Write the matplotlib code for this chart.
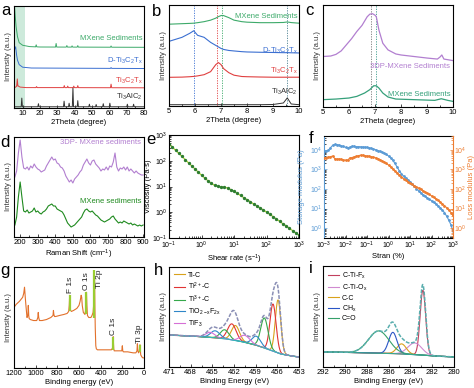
import numpy as np
import matplotlib
matplotlib.use("Agg")
import matplotlib.pyplot as plt
from matplotlib.ticker import MultipleLocator, LogLocator, NullFormatter

plt.rcParams["font.family"] = ["Liberation Sans", "DejaVu Sans"]
plt.rcParams["mathtext.default"] = "regular"

# ---------------- data ----------------
# (a) XRD wide range: baselines + peak sticks (position, height)
a_tac_bx = [5, 80]
a_tac_by = [0.012, 0.012]
a_tac_pk = [(9.5, 0.085), (19.1, 0.03), (33.9, 0.055), (36.8, 0.035), (39.0, 0.19),
            (41.8, 0.06), (48.5, 0.025), (52.4, 0.022), (56.5, 0.03), (60.3, 0.035),
            (70.4, 0.025), (74.0, 0.025)]
a_tct_bx = [5, 6, 6.5, 7.5, 8.5, 12, 30, 80]
a_tct_by = [0.20, 0.205, 0.215, 0.215, 0.205, 0.20, 0.20, 0.198]
a_tct_pk = [(6.9, 0.07), (18.0, 0.01), (34.0, 0.02), (36.0, 0.015), (39.5, 0.015),
            (41.8, 0.02), (61.0, 0.035)]
a_dtct_bx = [5, 5.5, 5.95, 6.5, 7, 8, 10, 15, 40, 80]
a_dtct_by = [0.56, 0.58, 0.60, 0.52, 0.47, 0.425, 0.40, 0.392, 0.39, 0.387]
a_dtct_pk = [(61.0, 0.008)]
a_sed_bx = [5, 5.3, 5.7, 6.2, 7, 8, 10, 14, 20, 80]
a_sed_by = [1.05, 1.0, 0.9, 0.8, 0.7, 0.64, 0.615, 0.602, 0.598, 0.595]
a_sed_pk = [(17.8, 0.02), (29.3, 0.035), (35.5, 0.015), (38.5, 0.012), (41.8, 0.015),
            (61.0, 0.012)]

# (b) XRD low angle
b_x = [5.0, 5.5, 5.8, 5.95, 6.1, 6.35, 6.6, 6.8, 6.9, 7.0, 7.05, 7.1, 7.3, 7.5, 7.8,
       8.0, 8.5, 9.0, 9.4, 9.55, 9.7, 10.0]
b_sed = [0.81, 0.815, 0.818, 0.82, 0.825, 0.835, 0.85, 0.87, 0.885, 0.895, 0.897, 0.895,
         0.875, 0.85, 0.835, 0.83, 0.825, 0.825, 0.827, 0.832, 0.826, 0.82]
b_dtct = [0.64, 0.68, 0.72, 0.745, 0.70, 0.68, 0.63, 0.60, 0.585, 0.57, 0.565, 0.56,
          0.55, 0.545, 0.538, 0.535, 0.532, 0.53, 0.528, 0.528, 0.527, 0.525]
b_tct = [0.284, 0.286, 0.29, 0.293, 0.298, 0.31, 0.34, 0.41, 0.43, 0.41, 0.39, 0.37,
         0.33, 0.305, 0.292, 0.29, 0.287, 0.285, 0.285, 0.285, 0.285, 0.285]
b_tac = [0.013, 0.013, 0.013, 0.013, 0.013, 0.013, 0.013, 0.013, 0.013, 0.013, 0.013,
         0.013, 0.013, 0.013, 0.013, 0.013, 0.013, 0.015, 0.03, 0.08, 0.02, 0.013]
b_lines = [5.95, 6.85, 7.05, 9.55]
b_line_colors = ["#3b6fd1", "#e04040", "#3daa6a", "#4a7f8f"]

# (c) XRD 3DP vs sediments
c_px = [5.0, 5.3, 5.5, 5.7, 5.9, 6.1, 6.3, 6.5, 6.7, 6.8, 6.9, 7.0, 7.05, 7.15, 7.3,
        7.5, 7.8, 8.0, 8.5, 9.0, 9.4, 9.5, 9.57, 9.65, 10.0]
c_py = [0.495, 0.50, 0.516, 0.55, 0.61, 0.67, 0.74, 0.80, 0.885, 0.91, 0.915, 0.90,
        0.885, 0.755, 0.625, 0.56, 0.52, 0.51, 0.495, 0.48, 0.47, 0.49, 0.51, 0.47, 0.455]
c_gx = [5.0, 5.5, 6.0, 6.3, 6.6, 6.8, 6.95, 7.05, 7.15, 7.3, 7.5, 7.8, 8.5, 9.3, 9.55,
        9.8, 10.0]
c_gy = [0.072, 0.078, 0.088, 0.104, 0.137, 0.17, 0.208, 0.208, 0.186, 0.137, 0.098,
        0.078, 0.072, 0.065, 0.081, 0.065, 0.055]
c_lines = [6.83, 7.03]

# (d) Raman
d_x = list(range(170, 901, 10))
d_3dp = [0.60, 0.66, 0.84, 0.97, 0.80, 0.69, 0.68, 0.70, 0.67, 0.71, 0.69, 0.73, 0.70,
         0.68, 0.67, 0.65, 0.66, 0.67, 0.71, 0.74, 0.77, 0.80, 0.77, 0.78, 0.74, 0.73,
         0.70, 0.69, 0.66, 0.61, 0.58, 0.55, 0.57, 0.54, 0.58, 0.60, 0.62, 0.65, 0.67,
         0.72, 0.75, 0.78, 0.74, 0.72, 0.76, 0.77, 0.73, 0.71, 0.69, 0.66, 0.68, 0.67,
         0.70, 0.67, 0.71, 0.70, 0.75, 0.84, 0.70, 0.66, 0.69, 0.68, 0.70, 0.67, 0.70,
         0.66, 0.68, 0.66, 0.64, 0.66, 0.64, 0.63, 0.62, 0.62]
d_sed = [0.12, 0.20, 0.40, 0.55, 0.40, 0.26, 0.25, 0.27, 0.24, 0.25, 0.26, 0.29, 0.25,
         0.26, 0.24, 0.23, 0.25, 0.26, 0.28, 0.31, 0.32, 0.33, 0.31, 0.31, 0.28, 0.27,
         0.26, 0.25, 0.22, 0.18, 0.14, 0.12, 0.10, 0.11, 0.12, 0.14, 0.16, 0.18, 0.20,
         0.24, 0.27, 0.28, 0.26, 0.25, 0.26, 0.24, 0.22, 0.21, 0.19, 0.17, 0.16, 0.15,
         0.16, 0.17, 0.18, 0.20, 0.21, 0.18, 0.16, 0.14, 0.15, 0.14, 0.16, 0.15, 0.14,
         0.13, 0.14, 0.12, 0.13, 0.12, 0.11, 0.12, 0.11, 0.12]

# (e) viscosity vs shear rate
e_rate = np.logspace(-1, 3, 41)
e_visc = [447, 339, 257, 195, 148, 110, 83, 63, 48, 36, 27.5, 21.4, 16.6, 13.2, 11.2,
          10.2, 9.8, 9.5, 8.7, 7.6, 6.5, 5.4, 4.5, 3.7, 3.1, 2.6, 2.1, 1.78, 1.48, 1.23,
          1.02, 0.83, 0.68, 0.55, 0.45, 0.36, 0.30, 0.24, 0.195, 0.158, 0.129]

# (f) amplitude sweep, log10 of moduli
f_strain = np.logspace(-3, 3, 61)
f_logG1 = [3.93, 3.95, 3.97, 4.10, 4.22, 4.27, 4.26, 4.24, 4.20, 4.17, 4.12, 4.10, 4.13,
           4.18, 4.17, 4.15, 4.16, 4.15, 4.14, 4.13, 4.12, 4.10, 4.07, 4.04, 4.00, 3.96,
           3.92, 3.87, 3.82, 3.76, 3.68, 3.58, 3.46, 3.30, 3.12, 2.93, 2.78, 2.66, 2.56,
           2.47, 2.38, 2.27, 2.15, 2.02, 1.90, 1.80, 1.70, 1.62, 1.55, 1.48, 1.40, 1.32,
           1.24, 1.15, 1.05, 0.93, 0.80, 0.62, 0.42, 0.18, -0.15]
f_logG2 = [3.56, 3.60, 3.62, 3.64, 3.68, 3.55, 3.52, 3.53, 3.51, 3.48, 3.47, 3.47, 3.58,
           3.60, 3.64, 3.66, 3.70, 3.72, 3.72, 3.70, 3.68, 3.67, 3.65, 3.62, 3.59, 3.55,
           3.50, 3.44, 3.38, 3.30, 3.22, 3.12, 3.02, 2.92, 2.82, 2.72, 2.62, 2.52, 2.44,
           2.37, 2.30, 2.23, 2.17, 2.11, 2.05, 1.98, 1.92, 1.85, 1.78, 1.72, 1.65, 1.58,
           1.50, 1.42, 1.34, 1.25, 1.15, 1.05, 0.93, 0.80, 0.65]

# (g) XPS survey
g_x = [1200, 1180, 1150, 1120, 1110, 1103, 1100, 1096, 1090, 1080, 1072, 1068, 1064,
       1060, 1050, 1020, 990, 980, 976, 972, 965, 940, 900, 860, 840, 836, 832, 826, 815,
       780, 740, 710, 695, 690, 686, 682, 678, 670, 650, 620, 600, 590, 580, 575, 570,
       560, 545, 535, 531, 527, 522, 510, 490, 480, 470, 465, 462, 459, 456, 453, 450,
       445, 440, 430, 400, 350, 300, 290, 286, 284, 282, 279, 275, 260, 230, 205, 200,
       196, 190, 150, 100, 75, 65, 61, 57, 50, 45, 40, 37, 34, 30, 20, 10, 5, 0]
g_y = [0.60, 0.63, 0.66, 0.70, 0.74, 0.80, 0.76, 0.70, 0.62, 0.50, 0.52, 0.62, 0.52,
       0.49, 0.48, 0.47, 0.47, 0.50, 0.55, 0.50, 0.47, 0.47, 0.48, 0.50, 0.52, 0.57, 0.53,
       0.51, 0.51, 0.52, 0.53, 0.54, 0.56, 0.62, 0.72, 0.63, 0.57, 0.56, 0.57, 0.59, 0.62,
       0.66, 0.72, 0.70, 0.62, 0.55, 0.53, 0.60, 0.75, 0.62, 0.52, 0.50, 0.50, 0.52, 0.55,
       0.62, 0.85, 0.96, 0.88, 0.60, 0.40, 0.22, 0.19, 0.18, 0.18, 0.18, 0.18, 0.20, 0.26,
       0.31, 0.25, 0.19, 0.17, 0.17, 0.17, 0.17, 0.22, 0.17, 0.16, 0.16, 0.15, 0.15, 0.17,
       0.24, 0.17, 0.15, 0.16, 0.20, 0.23, 0.18, 0.13, 0.11, 0.10, 0.10, 0.10]
g_bar_x = [686, 531, 459, 284, 37]
g_bar_lo = [0.56, 0.53, 0.50, 0.18, 0.16]
g_bar_hi = [0.72, 0.75, 0.97, 0.31, 0.23]
g_lab = ["F 1s", "O 1s", "Ti 2p", "C 1s", "Ti 3p"]
g_lab_x = [683, 530, 413, 283, 37]
g_lab_y = [0.74, 0.77, 0.79, 0.33, 0.25]

# (h) Ti 2p fit: background points, components (centre, height, fwhm)
h_bg_x = [471, 468, 465, 463, 461, 459, 457, 455.5, 454, 453]
h_bg_y = [0.32, 0.31, 0.295, 0.28, 0.255, 0.22, 0.17, 0.13, 0.11, 0.10]
h_names = ["Ti-C", "Ti$^{2+}$-C", "Ti$^{3+}$-C", "TiO$_{2-x}$F$_{2x}$", "TiF$_3$"]
h_colors = ["#d9a21b", "#e03434", "#35a84a", "#2f86c8", "#d66fd6"]
h_c1 = [455.9, 456.6, 457.8, 458.9, 460.5]
h_h1 = [0.53, 0.47, 0.30, 0.09, 0.07]
h_w1 = [0.9, 1.0, 1.2, 1.4, 1.6]
h_c2 = [461.8, 462.3, 463.3, 464.6, 465.3]
h_h2 = [0.15, 0.16, 0.09, 0.07, 0.05]
h_w2 = [1.3, 1.4, 1.4, 1.5, 1.5]

# (i) C 1s fit
i_bg_x = [292, 290, 288, 286, 284, 283, 282, 280]
i_bg_y = [0.15, 0.145, 0.14, 0.135, 0.125, 0.12, 0.11, 0.10]
i_names = ["C-Ti-F$_x$", "C-Ti-O$_x$", "C-C", "CH$_x$", "C=O"]
i_colors = ["#c2405e", "#d08ad0", "#d9a21b", "#2a56c6", "#35a06a"]
i_c = [282.85, 283.6, 284.8, 285.6, 286.9]
i_h = [0.64, 0.115, 0.10, 0.21, 0.22]
i_w = [0.6, 1.5, 1.0, 0.9, 2.2]

# ---------------- helpers ----------------
W, H = 474, 388
fig = plt.figure(figsize=(W / 100, H / 100), dpi=100)
FS = 5.5


def add(l, t, r, b):
    ax = fig.add_axes([l / W, 1 - b / H, (r - l) / W, (b - t) / H])
    ax.tick_params(which="both", direction="in", labelsize=FS, width=0.5, pad=1.5)
    ax.tick_params(which="major", length=2.2)
    ax.tick_params(which="minor", length=1.2)
    for s in ax.spines.values():
        s.set_linewidth(0.8)
    return ax


def spikes(bx, by, peaks, w=0.35):
    pts = list(zip(bx, by))
    for pos, h in peaks:
        b = np.interp(pos, bx, by)
        pts += [(pos - w, b), (pos, b + h), (pos + w, b)]
    pts.sort()
    return [p[0] for p in pts], [p[1] for p in pts]


def gauss(x, c, h, fwhm):
    s = fwhm / 2.3548
    return h * np.exp(-0.5 * ((x - c) / s) ** 2)


def letter(x, y, s):
    fig.text(x / W, 1 - y / H, s, fontsize=12, va="baseline", ha="left")


def ylab(ax, s, color="#333333"):
    ax.set_ylabel(s, fontsize=FS, labelpad=1.5, color=color)


def xlab(ax, s):
    ax.set_xlabel(s, fontsize=FS, labelpad=1.5)


def logticks(axis):
    axis.set_major_locator(LogLocator(base=10, numticks=10))
    axis.set_minor_locator(LogLocator(base=10, subs=np.arange(2, 10), numticks=10))
    axis.set_minor_formatter(NullFormatter())


GREEN = "#3daa6a"
BLUE = "#3b6fd1"
RED = "#e04040"
DARK = "#333333"
PURPLE = "#b27fd0"

# ---------------- (a) ----------------
ax = add(14, 6, 144, 108)
ax.axvspan(5, 11.5, color="#cdeadb", lw=0)
for bx, by, pk, col in [(a_tac_bx, a_tac_by, a_tac_pk, DARK),
                        (a_tct_bx, a_tct_by, a_tct_pk, RED),
                        (a_dtct_bx, a_dtct_by, a_dtct_pk, BLUE),
                        (a_sed_bx, a_sed_by, a_sed_pk, GREEN)]:
    xx, yy = spikes(bx, by, pk)
    ax.plot(xx, yy, color=col, lw=0.7)
ax.set_xlim(5, 80)
ax.set_ylim(0, 1)
ax.set_yticks([])
ax.xaxis.set_major_locator(MultipleLocator(10))
ax.xaxis.set_minor_locator(MultipleLocator(5))
ax.text(79, 0.68, "MXene Sediments", color=GREEN, fontsize=FS, ha="right", va="center")
ax.text(79, 0.46, "D-Ti$_3$C$_2$T$_x$", color=BLUE, fontsize=FS, ha="right", va="center")
ax.text(79, 0.265, "Ti$_3$C$_2$T$_x$", color=RED, fontsize=FS, ha="right", va="center")
ax.text(79, 0.105, "Ti$_3$AlC$_2$", color=DARK, fontsize=FS, ha="right", va="center")
xlab(ax, "2Theta (degree)")
ylab(ax, "Intensity (a.u.)")

# ---------------- (b) ----------------
ax = add(169, 5, 299, 106)
for xv, col in zip(b_lines, b_line_colors):
    ax.axvline(xv, color=col, lw=0.6, ls=(0, (1.5, 1.5)))
ax.plot(b_x, b_tac, color=DARK, lw=0.7)
ax.plot(b_x, b_tct, color=RED, lw=0.8)
ax.plot(b_x, b_dtct, color=BLUE, lw=0.8)
ax.plot(b_x, b_sed, color=GREEN, lw=0.8)
ax.set_xlim(5, 10)
ax.set_ylim(0, 1)
ax.set_yticks([])
ax.xaxis.set_major_locator(MultipleLocator(1))
ax.xaxis.set_minor_locator(MultipleLocator(0.5))
ax.text(9.95, 0.89, "MXene Sediments", color=GREEN, fontsize=FS, ha="right", va="center")
ax.text(9.95, 0.55, "D-Ti$_3$C$_2$T$_x$", color=BLUE, fontsize=FS, ha="right", va="center")
ax.text(9.95, 0.35, "Ti$_3$C$_2$T$_x$", color=RED, fontsize=FS, ha="right", va="center")
ax.text(9.95, 0.14, "Ti$_3$AlC$_2$", color=DARK, fontsize=FS, ha="right", va="center")
xlab(ax, "2Theta (degree)")
ylab(ax, "Intensity (a.u.)")

# ---------------- (c) ----------------
ax = add(323, 5, 453, 107)
ax.axvline(c_lines[0], color="#777777", lw=0.6, ls=(0, (1.5, 1.5)))
ax.axvline(c_lines[1], color="#3a9a8a", lw=0.6, ls=(0, (1.5, 1.5)))
ax.plot(c_px, c_py, color=PURPLE, lw=0.9)
ax.plot(c_gx, c_gy, color="#35a07a", lw=0.9)
ax.set_xlim(5, 10)
ax.set_ylim(0, 1)
ax.set_yticks([])
ax.xaxis.set_major_locator(MultipleLocator(1))
ax.xaxis.set_minor_locator(MultipleLocator(0.5))
ax.text(9.9, 0.40, "3DP-MXene Sediments", color=PURPLE, fontsize=FS, ha="right", va="center")
ax.text(9.9, 0.12, "MXene Sediments", color="#35a07a", fontsize=FS, ha="right", va="center")
xlab(ax, "2Theta (degree)")
ylab(ax, "Intensity (a.u.)")

# ---------------- (d) ----------------
ax = add(14, 137, 144, 237)
ax.plot(d_x, d_3dp, color=PURPLE, lw=0.8)
ax.plot(d_x, d_sed, color="#1f8a1f", lw=0.8)
ax.set_xlim(165, 905)
ax.set_ylim(0, 1)
ax.set_yticks([])
ax.xaxis.set_major_locator(MultipleLocator(100))
ax.xaxis.set_minor_locator(MultipleLocator(50))
ax.text(890, 0.95, "3DP- MXene sediments", color=PURPLE, fontsize=FS, ha="right", va="center")
ax.text(890, 0.36, "MXene sediments", color="#1f8a1f", fontsize=FS, ha="right", va="center")
xlab(ax, "Raman Shift (cm$^{-1}$)")
ylab(ax, "Intensity (a.u.)")

# ---------------- (e) ----------------
ax = add(169, 135, 299, 238)
ax.loglog(e_rate, e_visc, color="#a6d22e", lw=0.9, marker="o", ms=1.4,
          mfc="#2e7d32", mec="#2e7d32")
ax.set_xlim(0.1, 1000)
ax.set_ylim(0.1, 1000)
logticks(ax.xaxis)
logticks(ax.yaxis)
ax.tick_params(labelsize=5, pad=1)
xlab(ax, "Shear rate (s$^{-1}$)")
ax.set_ylabel("Viscosity (Pa·s)", fontsize=FS, labelpad=0.5)

# ---------------- (f) ----------------
ax = add(324, 136, 453, 238)
FB, FO = "#5b9bd5", "#ed7d31"
ax.set_xscale("log")
ax.set_yscale("log")
ax.plot(f_strain, 10 ** np.array(f_logG1), color=FB, lw=0.8, marker="o", ms=1.0)
ax.set_xlim(1e-3, 1e3)
ax.set_ylim(10 ** -0.5, 10 ** 4.7)
logticks(ax.xaxis)
logticks(ax.yaxis)
ax.tick_params(labelsize=5, pad=1)
ax.tick_params(axis="y", colors=FB)
ax.spines["left"].set_color(FB)
ax.spines["right"].set_visible(False)
ax.set_ylabel("Storage modulus (Pa)", fontsize=FS, color=FB)
ax.yaxis.set_label_coords(-0.15, 0.5)
xlab(ax, "Stran (%)")
ax2 = ax.twinx()
ax2.set_yscale("log")
ax2.plot(f_strain, 10 ** np.array(f_logG2), color=FO, lw=0.8, marker="o", ms=1.0)
ax2.set_ylim(10 ** -0.5, 10 ** 4.7)
logticks(ax2.yaxis)
ax2.tick_params(which="both", direction="in", labelsize=5, width=0.5, pad=1, colors=FO)
ax2.tick_params(which="major", length=2.2)
ax2.tick_params(which="minor", length=1.2)
for k in ("left", "top", "bottom"):
    ax2.spines[k].set_visible(False)
ax2.spines["right"].set_color(FO)
ax2.spines["right"].set_linewidth(0.8)
ax2.set_ylabel("Loss modulus (Pa)", fontsize=FS, color=FO)
ax2.yaxis.set_label_coords(1.115, 0.5)

# ---------------- (g) ----------------
ax = add(14, 267, 144, 368)
ax.plot(g_x, g_y, color="#e2712c", lw=0.8)
ax.vlines(g_bar_x, g_bar_lo, g_bar_hi, color="#9acd32", lw=1.6)
for s, xv, yv in zip(g_lab, g_lab_x, g_lab_y):
    ax.text(xv, yv, s, rotation=90, fontsize=6, ha="center", va="bottom", color="#222222")
ax.set_xlim(1200, 0)
ax.set_ylim(0, 1)
ax.set_yticks([])
ax.xaxis.set_major_locator(MultipleLocator(200))
ax.xaxis.set_minor_locator(MultipleLocator(100))
xlab(ax, "Binding energy (eV)")
ylab(ax, "Intensity (a.u.)")

# ---------------- (h) ----------------
ax = add(169, 267, 299, 367)
hx = np.linspace(471, 453, 400)
hbg = np.interp(hx, h_bg_x[::-1], h_bg_y[::-1])
env = hbg.copy()
for k in range(5):
    comp = gauss(hx, h_c1[k], h_h1[k], h_w1[k]) + gauss(hx, h_c2[k], h_h2[k], h_w2[k])
    env += comp
    ax.plot(hx, hbg + comp, color=h_colors[k], lw=0.8, label=h_names[k])
ax.plot(hx, hbg, color="#35b8b8", lw=0.8)
ax.plot(hx, env, color="#8a8fb5", lw=1.1, ls=(0, (2.5, 1)))
ax.set_xlim(471, 453)
ax.set_ylim(0, 1)
ax.set_yticks([])
ax.set_xticks([471, 468, 465, 462, 459, 456, 453])
ax.xaxis.set_minor_locator(MultipleLocator(1.5))
ax.legend(loc="upper left", fontsize=5, frameon=False, handlelength=1.6,
          handletextpad=0.4, labelspacing=0.25, borderaxespad=0.3)
xlab(ax, "Binding Energy (eV)")
ylab(ax, "Intensity (a.u.)")

# ---------------- (i) ----------------
ax = add(323, 266, 454, 367)
ix = np.linspace(292, 280, 400)
ibg = np.interp(ix, i_bg_x[::-1], i_bg_y[::-1])
env = ibg.copy()
for k in range(5):
    comp = gauss(ix, i_c[k], i_h[k], i_w[k])
    env += comp
    ax.plot(ix, ibg + comp, color=i_colors[k], lw=0.8, label=i_names[k])
ax.plot(ix, ibg, color="#35a890", lw=0.8)
ax.plot(ix, env, color="#5aaeae", lw=1.1, ls=(0, (2.5, 1)))
ax.set_xlim(292, 280)
ax.set_ylim(0, 1)
ax.set_yticks([])
ax.set_xticks([292, 290, 288, 286, 284, 282, 280])
ax.xaxis.set_minor_locator(MultipleLocator(1))
ax.legend(loc="upper left", fontsize=5, frameon=False, handlelength=1.6,
          handletextpad=0.4, labelspacing=0.25, borderaxespad=0.3)
xlab(ax, "Binding Energy (eV)")
ylab(ax, "Intensity (a.u.)")

# panel letters
for s, x, y in [("a", 1, 15), ("b", 152, 16), ("c", 305, 15),
                ("d", 0, 147), ("e", 146, 144), ("f", 309, 143),
                ("g", 0, 275), ("h", 154, 275), ("i", 309, 273)]:
    letter(x, y, s)

fig.savefig("out.png", dpi=100)
